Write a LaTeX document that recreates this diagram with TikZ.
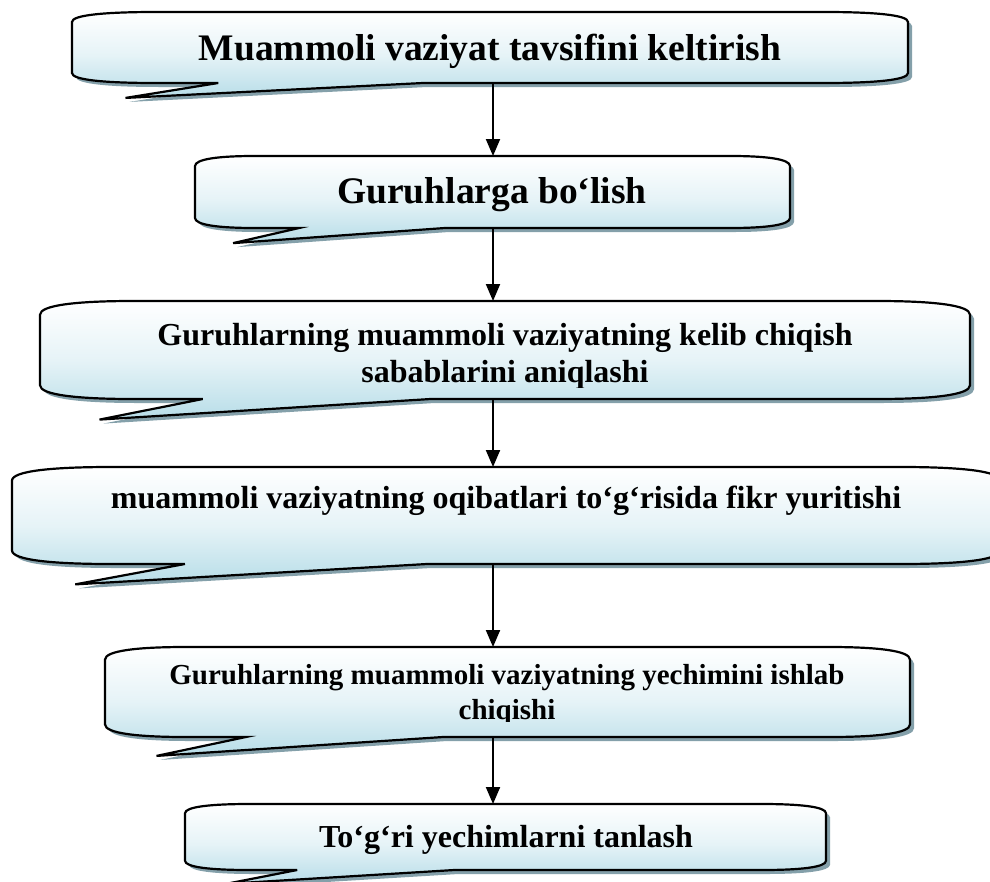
\documentclass[tikz,border=0pt]{standalone}
\usepackage{fontspec}
\setmainfont{Liberation Serif}
\usetikzlibrary{arrows.meta}
\definecolor{shadowc}{RGB}{132,160,170}
\definecolor{boxblue}{RGB}{183,221,232}
\tikzset{
 banner/.style={draw=black, line width=2.2pt, top color=white, bottom color=boxblue, middle color=white!65!boxblue},
 bshadow/.style={fill=shadowc},
 lblA/.style={font=\fontsize{37.5}{45}\selectfont\bfseries, inner sep=0pt, anchor=base},
 lblB/.style={font=\fontsize{32}{37}\selectfont\bfseries, inner sep=0pt, anchor=base},
 lblC/.style={font=\fontsize{29}{35}\selectfont\bfseries, inner sep=0pt, anchor=base},
 flow/.style={line width=2pt, -{Triangle[length=17pt,width=14pt]}},
}
\newcommand\bpathX{(\bL,\bT+\bd) .. controls (\bL,\bT+0.3*\bd) and (\bL+0.4*\bc,\bT) .. (\bL+\bc,\bT) -- (\bR-\bc,\bT) .. controls (\bR-0.4*\bc,\bT) and (\bR,\bT+0.3*\bd) .. (\bR,\bT+\bd) -- (\bR,\bB-\bd) .. controls (\bR,\bB-0.3*\bd) and (\bR-0.4*\bc,\bB) .. (\bR-\bc,\bB) -- (\bJ,\bB) -- (\bTx,\bTy) -- (\bBase,\bB) -- (\bL+\bc,\bB) .. controls (\bL+0.4*\bc,\bB) and (\bL,\bB-0.3*\bd) .. (\bL,\bB-\bd) -- cycle}
\newcommand\bannerbox[4]{%
 \pgfmathsetmacro\bL{#1}\pgfmathsetmacro\bR{#2}\pgfmathsetmacro\bT{#3}\pgfmathsetmacro\bB{#4}%
 \pgfmathsetmacro\bd{0.14*(#4-#3)}\pgfmathsetmacro\bc{0.1*(#2-#1)}%
 \pgfmathsetmacro\bBase{#1+0.175*(#2-#1)}\pgfmathsetmacro\bTx{#1+0.064*(#2-#1)}%
 \pgfmathsetmacro\bJ{#1+0.42*(#2-#1)}\pgfmathsetmacro\bTy{#4+0.21*(#4-#3)}%
 \fill[bshadow,shift={(4,4)}] \bpathX;
 \path[banner] \bpathX;
}
\begin{document}
\begin{tikzpicture}[x=1pt,y=-1pt]
\useasboundingbox (0,0) rectangle (990,881);
\clip (0,0) rectangle (990,881);
\fill[white] (0,0) rectangle (990,881);

\bannerbox{72}{908}{12}{83}
\bannerbox{195}{790}{156}{228}
\bannerbox{40}{970}{301}{399}
\bannerbox{12}{1000}{467}{564}
\bannerbox{105}{910}{647}{737}
\bannerbox{185}{826}{804}{870}

\node[lblA] (t1) at (490,60) {Muammoli vaziyat tavsifini keltirish};
\node[lblA] (t2) at (492,203) {Guruhlarga bo‘lish};
\node[lblB] (t3a) at (505,345) {Guruhlarning muammoli vaziyatning kelib chiqish};
\begin{scope}
\clip (0,0) rectangle (990,387);
\node[lblB] (t3b) at (505,382) {sabablarini aniqlashi};
\end{scope}
\node[lblB] (t4) at (506,508) {muammoli vaziyatning oqibatlari to‘g‘risida fikr yuritishi};
\node[lblC] (t5a) at (507,684) {Guruhlarning muammoli vaziyatning yechimini ishlab};
\begin{scope}
\clip (0,0) rectangle (990,721);
\node[lblC] (t5b) at (507,719) {chiqishi};
\end{scope}
\node[lblB] (t6) at (506,847) {To‘g‘ri yechimlarni tanlash};

\coordinate (b1s) at (493,83);
\coordinate (b2n) at (493,156);
\coordinate (b2s) at (493,228);
\coordinate (b3n) at (493,301);
\coordinate (b3s) at (493,399);
\coordinate (b4n) at (493,467);
\coordinate (b4s) at (493,564);
\coordinate (b5n) at (493,647);
\coordinate (b5s) at (493,737);
\coordinate (b6n) at (493,804);

\draw[flow] (b1s) -- (b2n);
\draw[flow] (b2s) -- (b3n);
\draw[flow] (b3s) -- (b4n);
\draw[flow] (b4s) -- (b5n);
\draw[flow] (b5s) -- (b6n);
\end{tikzpicture}
\end{document}
